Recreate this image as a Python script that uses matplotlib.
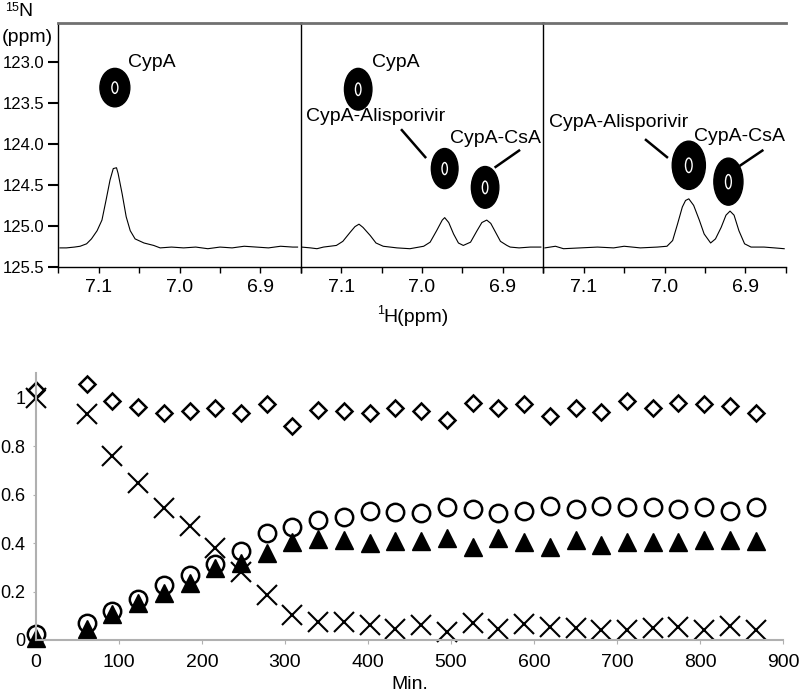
import numpy as np
import matplotlib
matplotlib.use("Agg")
import matplotlib.pyplot as plt
from matplotlib.patches import Ellipse

plt.rcParams['font.family'] = ['Liberation Sans', 'DejaVu Sans']

# ---- 上段: 2D NMR スペクトル (1H x 15N) ----
# 各パネルの 1D トレース (x: 1H ppm, y: 15N 軸上の位置)
trace1_x = [7.148, 7.140, 7.130, 7.123, 7.115, 7.109, 7.102, 7.096, 7.091, 7.086, 7.082, 7.078,
            7.076, 7.071, 7.066, 7.061, 7.055, 7.044, 7.032, 7.024, 7.010, 6.995, 6.980, 6.965,
            6.950, 6.935, 6.920, 6.905, 6.890, 6.875, 6.860, 6.854]
trace1_y = [125.27, 125.27, 125.26, 125.25, 125.22, 125.16, 125.06, 124.93, 124.69, 124.44, 124.30, 124.29,
            124.36, 124.61, 124.89, 125.06, 125.16, 125.21, 125.24, 125.27, 125.26, 125.27, 125.26, 125.28,
            125.26, 125.27, 125.25, 125.26, 125.27, 125.25, 125.26, 125.26]

trace2_x = [7.149, 7.138, 7.130, 7.122, 7.106, 7.098, 7.089, 7.083, 7.078, 7.073, 7.064, 7.057,
            7.048, 7.031, 7.015, 6.998, 6.990, 6.982, 6.975, 6.972, 6.967, 6.961, 6.955, 6.949,
            6.940, 6.932, 6.926, 6.920, 6.915, 6.909, 6.903, 6.895, 6.891, 6.880, 6.866, 6.853]
trace2_y = [125.26, 125.27, 125.28, 125.26, 125.24, 125.19, 125.08, 125.01, 124.98, 125.02, 125.12, 125.21,
            125.25, 125.27, 125.28, 125.25, 125.20, 125.06, 124.93, 124.90, 124.96, 125.10, 125.21, 125.24,
            125.20, 125.06, 124.96, 124.93, 124.97, 125.08, 125.19, 125.24, 125.26, 125.27, 125.26, 125.26]

trace3_x = [7.148, 7.135, 7.125, 7.104, 7.083, 7.063, 7.050, 7.030, 7.009, 6.997, 6.990, 6.984,
            6.978, 6.974, 6.970, 6.964, 6.957, 6.951, 6.943, 6.937, 6.930, 6.924, 6.919, 6.914,
            6.908, 6.901, 6.893, 6.877, 6.864, 6.852]
trace3_y = [125.27, 125.25, 125.28, 125.27, 125.26, 125.27, 125.25, 125.27, 125.26, 125.25, 125.18, 124.98,
            124.77, 124.69, 124.67, 124.75, 124.93, 125.10, 125.21, 125.16, 125.02, 124.87, 124.82, 124.87,
            125.06, 125.22, 125.26, 125.26, 125.27, 125.28]

# クロスピークの中心 (1H ppm, 15N ppm)
peak1_h = [7.080]
peak1_n = [123.31]
peak2_h = [7.079, 6.972, 6.922]
peak2_n = [123.33, 124.30, 124.53]
peak3_h = [6.970, 6.921]
peak3_n = [124.26, 124.46]

# ---- 下段: 時間変化 ----
t_min = [0, 61, 92, 123, 154, 185, 216, 247, 278, 309, 340, 371, 402, 433,
         464, 495, 526, 557, 588, 619, 650, 681, 712, 743, 774, 805, 836, 867]
diamond_y = [1.03, 1.055, 0.987, 0.962, 0.935, 0.945, 0.955, 0.935, 0.973, 0.882, 0.948, 0.946, 0.937, 0.955,
             0.946, 0.907, 0.979, 0.955, 0.973, 0.924, 0.955, 0.939, 0.985, 0.955, 0.978, 0.973, 0.964, 0.938]
cross_y = [1.0, 0.931, 0.759, 0.649, 0.543, 0.470, 0.381, 0.282, 0.186, 0.103, 0.076, 0.076, 0.062, 0.044,
           0.062, 0.034, 0.071, 0.044, 0.066, 0.055, 0.049, 0.041, 0.041, 0.049, 0.055, 0.041, 0.058, 0.041]
circle_y = [0.025, 0.071, 0.121, 0.169, 0.227, 0.268, 0.312, 0.368, 0.440, 0.467, 0.495, 0.508, 0.532, 0.529,
            0.522, 0.547, 0.539, 0.522, 0.532, 0.554, 0.539, 0.554, 0.547, 0.547, 0.539, 0.547, 0.532, 0.547]
tri_y = [0.007, 0.044, 0.107, 0.154, 0.195, 0.236, 0.296, 0.316, 0.357, 0.405, 0.415, 0.412, 0.399, 0.408,
         0.410, 0.419, 0.385, 0.422, 0.403, 0.385, 0.412, 0.392, 0.403, 0.403, 0.403, 0.412, 0.412, 0.408]

fig = plt.figure(figsize=(8, 6.94), dpi=100)

W, H = 800.0, 694.0
top_b = 1 - 266.7 / H
top_h = 243.7 / H
lefts = [58.3, 300.8, 543.3]
pw = 242.5 / W

traces = [(trace1_x, trace1_y), (trace2_x, trace2_y), (trace3_x, trace3_y)]
peaks = [(peak1_h, peak1_n), (peak2_h, peak2_n), (peak3_h, peak3_n)]
# 楕円サイズ (ppm 単位, 見た目用)
blob_sizes = [[(0.037, 0.47)],
              [(0.034, 0.51), (0.033, 0.49), (0.034, 0.51)],
              [(0.041, 0.59), (0.036, 0.575)]]

axes = []
for i in range(3):
    ax = fig.add_axes([lefts[i] / W, top_b, pw, top_h])
    ax.set_xlim(7.15, 6.85)
    ax.set_ylim(125.5, 122.52)
    ax.plot(traces[i][0], traces[i][1], color='black', lw=0.8)
    for (h, n), (ew, eh) in zip(zip(*peaks[i]), blob_sizes[i]):
        ax.add_patch(Ellipse((h, n), ew, eh, facecolor='black', edgecolor='black', lw=1))
        ax.add_patch(Ellipse((h, n), ew * 0.2, eh * 0.3, facecolor='none', edgecolor='white', lw=1.0))
    ax.spines['right'].set_visible(False)
    ax.spines['top'].set_color('#707070')
    ax.spines['top'].set_linewidth(2)
    ax.spines['left'].set_linewidth(1)
    ax.spines['bottom'].set_linewidth(1)
    ax.set_xticks([7.1, 7.0, 6.9])
    ax.set_xticklabels(['7.1', '7.0', '6.9'])
    ax.set_xticks([7.15, 7.05, 6.95, 6.85], minor=True)
    ax.tick_params(axis='x', which='both', direction='out', length=4, width=1, labelsize=14, pad=5)
    if i == 0:
        ax.set_yticks([123.0, 123.5, 124.0, 124.5, 125.0, 125.5])
        ax.set_yticklabels(['123.0', '123.5', '124.0', '124.5', '125.0', '125.5'])
        ax.tick_params(axis='y', direction='out', length=7, width=1.5, labelsize=12, pad=3)
    else:
        ax.set_yticks([])
    axes.append(ax)

ax1, ax2, ax3 = axes
ax1.text(7.0635, 123.0, 'CypA', fontsize=14, va='center', ha='left')
ax2.text(7.062, 123.0, 'CypA', fontsize=14, va='center', ha='left')
ax2.text(7.143, 123.66, 'CypA-Alisporivir', fontsize=14, va='center', ha='left')
ax2.text(6.965, 123.93, 'CypA-CsA', fontsize=14, va='center', ha='left')
ax3.text(7.143, 123.74, 'CypA-Alisporivir', fontsize=14, va='center', ha='left')
ax3.text(6.964, 123.91, 'CypA-CsA', fontsize=14, va='center', ha='left')
ax2.plot([7.025, 6.996], [123.83, 124.16], color='black', lw=1.8)
ax2.plot([6.880, 6.909], [124.08, 124.28], color='black', lw=1.8)
ax3.plot([7.023, 6.997], [123.95, 124.16], color='black', lw=1.8)
ax3.plot([6.879, 6.906], [124.08, 124.26], color='black', lw=1.8)

# 軸ラベル
fig.text(5 / W, 1 - 8 / H, '15', fontsize=9, va='center', ha='left')
fig.text(18 / W, 1 - 12 / H, 'N', fontsize=14, va='center', ha='left')
fig.text(2 / W, 1 - 38 / H, '(ppm)', fontsize=14, va='center', ha='left')
fig.text(377 / W, 1 - 311 / H, '1', fontsize=9, va='center', ha='left')
fig.text(383 / W, 1 - 317 / H, 'H(ppm)', fontsize=14, va='center', ha='left')

# ---- 下段 ----
bx = fig.add_axes([36 / W, 1 - 640 / H, 747 / W, (640 - 373.3) / H])
bx.set_xlim(0, 900)
bx.set_ylim(0, 1.1)
bx.plot(t_min, diamond_y, linestyle='none', marker='D', markersize=8.5, mfc='none', mec='black', mew=1.8, clip_on=False)
bx.plot(t_min, cross_y, linestyle='none', marker='x', markersize=14, mec='black', mew=1.5, clip_on=False)
bx.plot(t_min, circle_y, linestyle='none', marker='o', markersize=12.5, mfc='white', mec='black', mew=1.8, clip_on=False)
bx.plot(t_min, tri_y, linestyle='none', marker='^', markersize=13, mfc='black', mec='black', clip_on=False)

for s in ['top', 'right']:
    bx.spines[s].set_visible(False)
for s in ['left', 'bottom']:
    bx.spines[s].set_color('#b0b0b0')
    bx.spines[s].set_linewidth(1.5)
bx.set_xticks(np.arange(0, 901, 100))
bx.set_yticks([0, 0.2, 0.4, 0.6, 0.8, 1.0])
bx.set_yticklabels(['0', '0.2', '0.4', '0.6', '0.8', '1'])
bx.tick_params(axis='x', direction='out', length=3, color='#b0b0b0', labelsize=14, pad=7)
bx.tick_params(axis='y', direction='out', length=2, color='#b0b0b0', labelsize=13, pad=5.5)
bx.set_xlabel('Min.', fontsize=14, labelpad=4)

fig.savefig('out.png', dpi=100)
